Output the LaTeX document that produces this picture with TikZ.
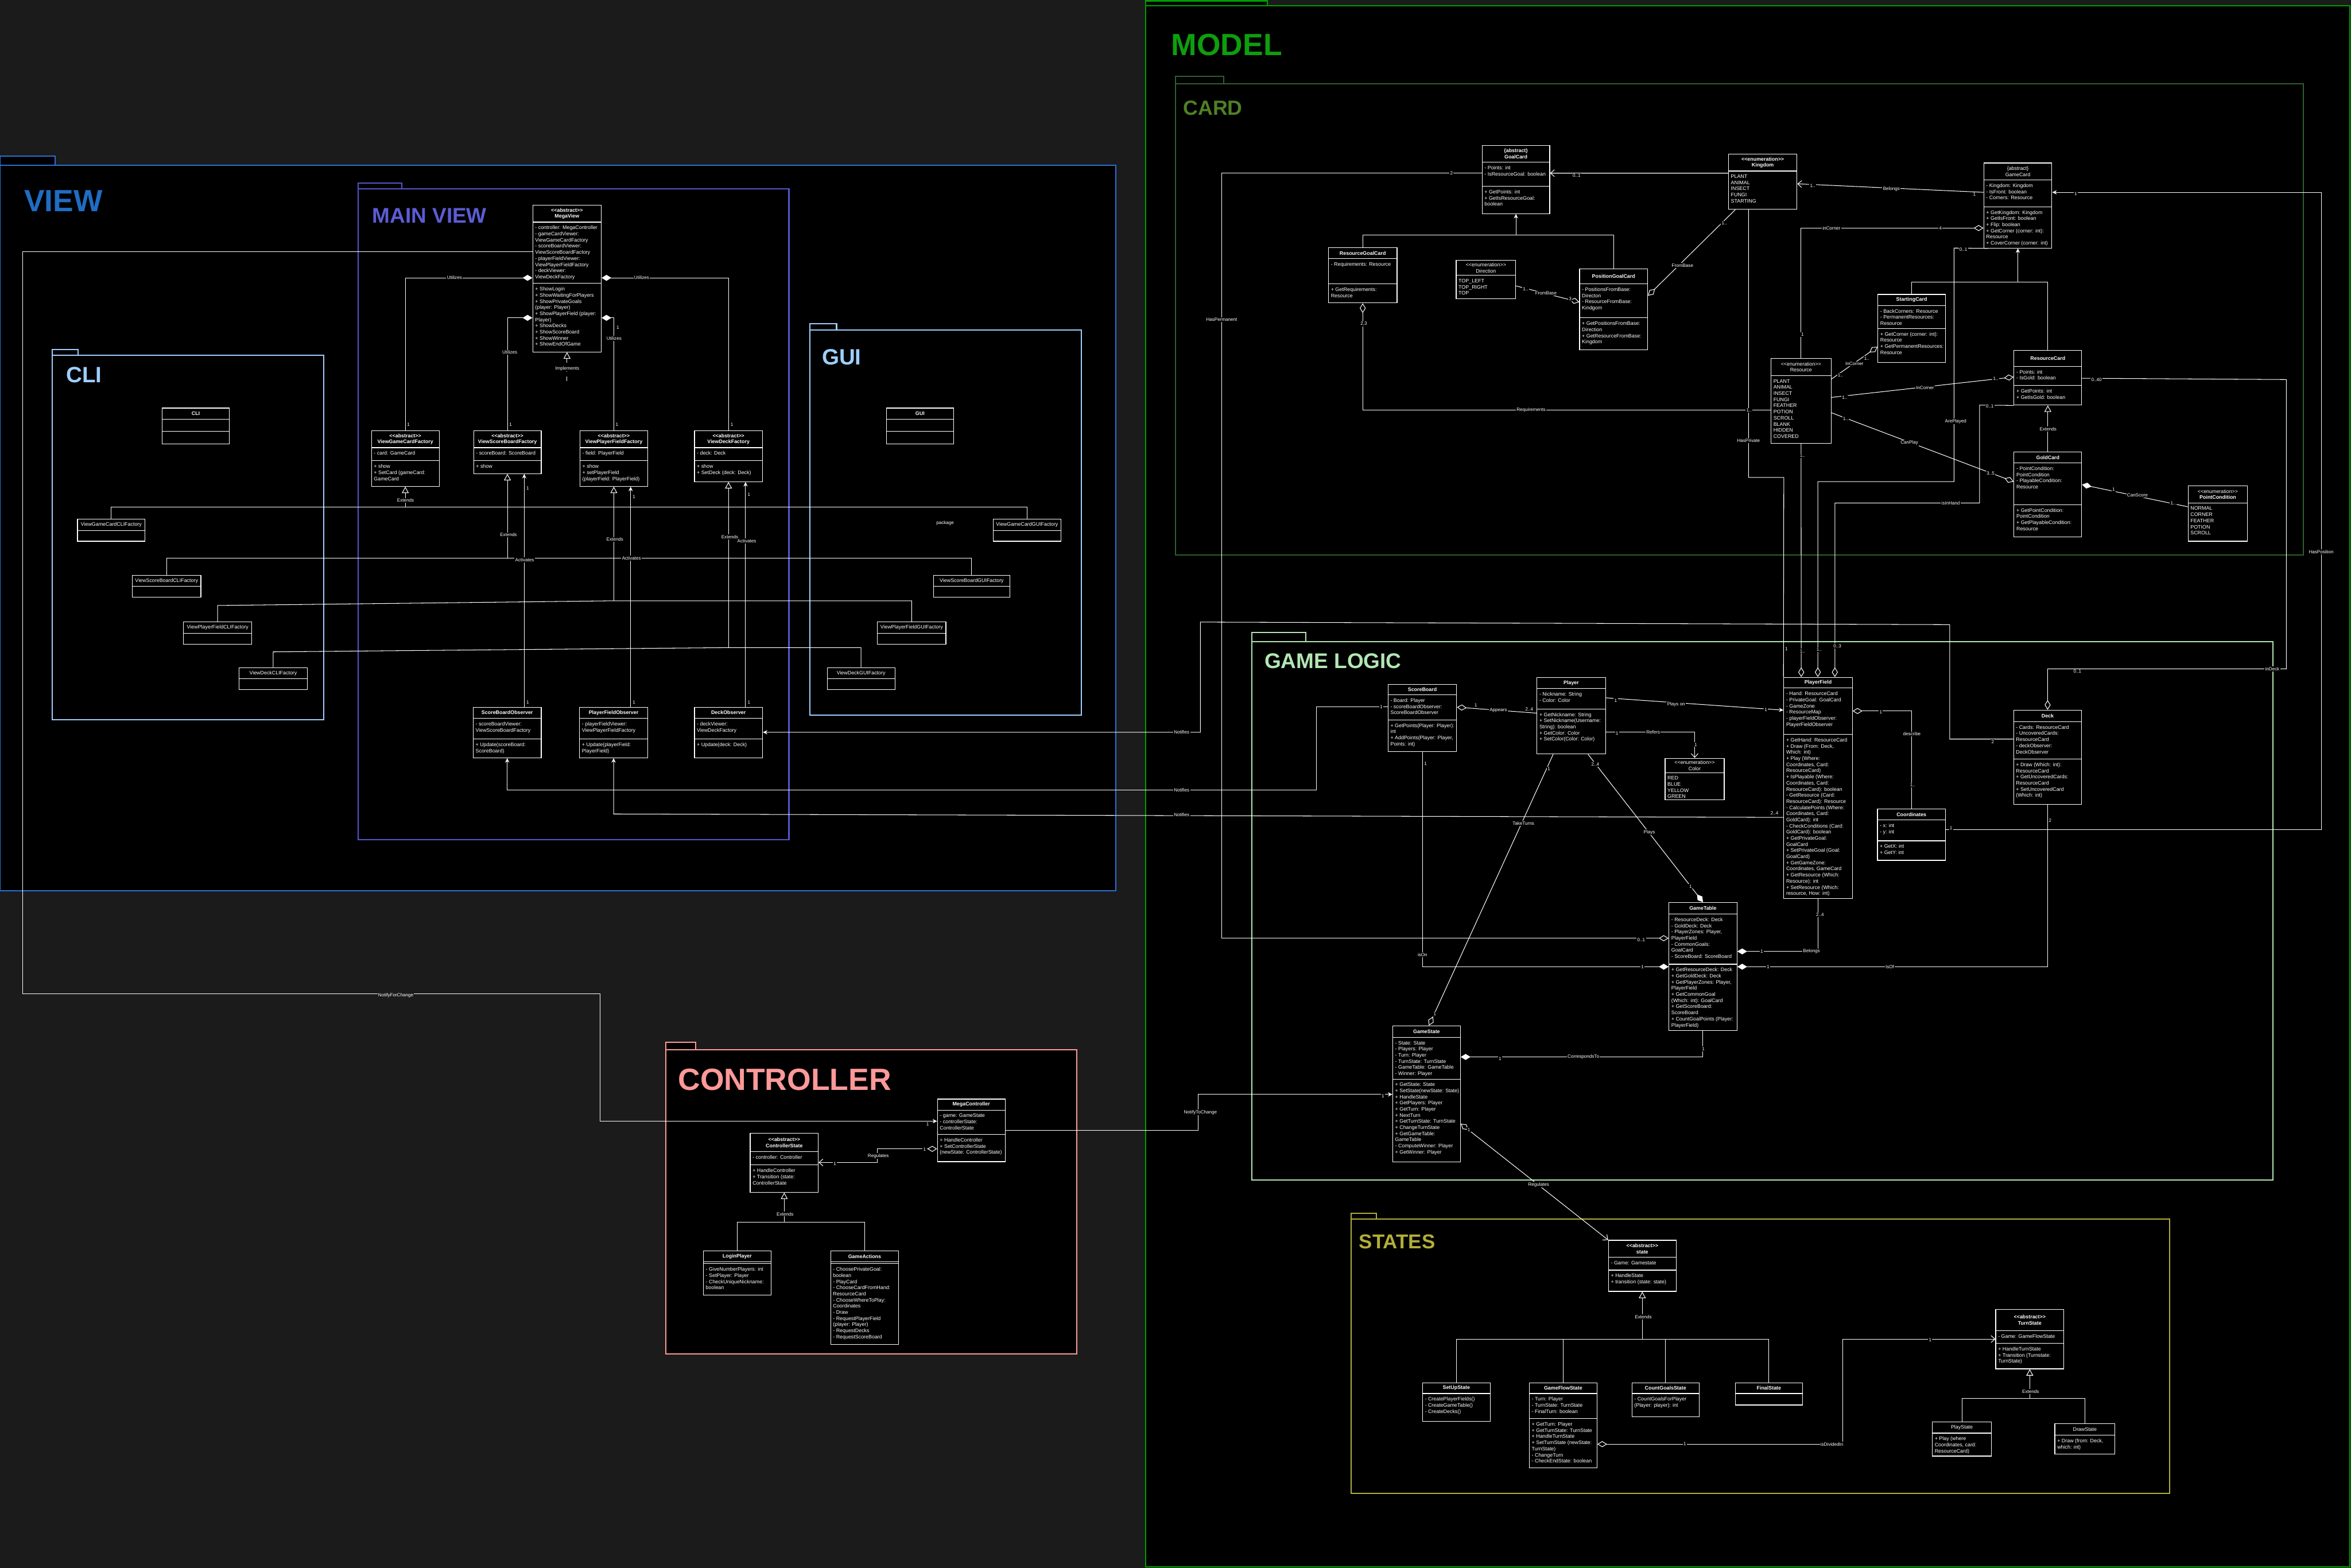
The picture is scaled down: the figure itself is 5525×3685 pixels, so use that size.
\documentclass[tikz,border=0pt]{standalone}
\usepackage{fontspec}
\setmainfont{Liberation Sans}
\usetikzlibrary{arrows.meta,fit}
\pgfdeclarelayer{bgl}
\pgfdeclarelayer{edges}
\pgfsetlayers{bgl,edges,main}
\definecolor{pagebg}{HTML}{1B1B1B}
\definecolor{viewc}{HTML}{2A6FD6}
\definecolor{viewt}{HTML}{1F6DC4}
\definecolor{mainvc}{HTML}{5555CC}
\definecolor{mainvt}{HTML}{5C5CD6}
\definecolor{clic}{HTML}{9ECFFF}
\definecolor{modelc}{HTML}{009F00}
\definecolor{modelt}{HTML}{0E9E0E}
\definecolor{cardc}{HTML}{2F5F2F}
\definecolor{cardt}{HTML}{4F8026}
\definecolor{logicc}{HTML}{B3E6B3}
\definecolor{ctrlc}{HTML}{FF9999}
\definecolor{statesc}{HTML}{B3AE38}
\newcommand\hdf{\fontsize{3.41pt}{4.1pt}\selectfont}
\newcommand\lbf{\fontsize{3.1pt}{3.7pt}\selectfont}
\newcommand\stL{<\kern0pt<}
\newcommand\stR{>\kern0pt>}
\newcommand\ttlfont[1]{\fontsize{#1}{#1}\selectfont\bfseries}
\tikzset{
  clsbox/.style={draw=white,line width=0.45pt,fill=black,inner sep=0pt},
  secl/.style={draw=white,line width=0.45pt},
  hdtxt/.style={font=\hdf,text=white,align=center,inner sep=0pt},
  bdtxt/.style={font=\hdf,text=white,align=left,inner sep=0pt,anchor=north west},
  conn/.style={draw=white,line width=0.4pt},
  lab/.style={font=\lbf,text=white,fill=black,inner sep=0.5pt},
  pkgline/.style={line width=0.8pt,fill=black},
  ptitle/.style={anchor=west,inner sep=0pt},
  HDia/.tip={Diamond[fill=black,length=6.5pt,width=4pt]},
  FDia/.tip={Diamond[length=6.5pt,width=4pt]},
  GTri/.tip={Triangle[fill=black,length=4.3pt,width=4.6pt]},
  OBarb/.tip={Straight Barb[length=2.6pt,width=4.6pt]},
  FArr/.tip={Stealth[length=3pt,width=2.8pt]},
}
% name, x1, y1, x2, y2, header bottom, header text
\newcommand\cls[7]{%
  \coordinate (#1-a) at (#2,#3);\coordinate (#1-b) at (#4,#5);
  \node[clsbox,fit=(#1-a)(#1-b)] (#1) {};
  \draw[secl] (#2,#6) -- (#4,#6);
  \node[hdtxt] at ({(#2+#4)/2},{(#3+#6)/2}) {#7};}
\newcommand\sect[3]{\draw[secl] (#1,#3) -- (#2,#3);}
\newcommand\txt[3]{\node[bdtxt] at ({#1+5},{#2+8}) {#3};}
\newcommand\lb[3]{\node[lab] at (#1,#2) {#3};}
\begin{document}
\begin{tikzpicture}[x=0.01cm,y=-0.01cm]
\useasboundingbox (0,0) rectangle (5525,3685);
\begin{pgfonlayer}{bgl}
\fill[pagebg] (0,0) rectangle (5525,3685);
\draw[viewc,pkgline] (0,367) rectangle (130,388);
\draw[viewc,pkgline] (0,388) rectangle (2622,2093);
\draw[mainvc,pkgline] (842,430) rectangle (944,444);
\draw[mainvc,pkgline] (842,444) rectangle (1854,1973);
\draw[clic,pkgline] (123,821) rectangle (183,835);
\draw[clic,pkgline] (123,835) rectangle (761,1691);
\draw[clic,pkgline] (1903,761) rectangle (1966,775);
\draw[clic,pkgline] (1903,775) rectangle (2541,1681);
\draw[modelc,pkgline] (2692,2) rectangle (2978,14);
\draw[modelc,pkgline] (2692,14) rectangle (5522,3682);
\draw[cardc,pkgline] (2763,180) rectangle (2876,197);
\draw[cardc,pkgline] (2763,197) rectangle (5413,1304);
\draw[logicc,pkgline] (2942,1487) rectangle (3069,1508);
\draw[logicc,pkgline] (2942,1508) rectangle (5342,2773);
\draw[ctrlc,pkgline] (1565,2449) rectangle (1635,2467);
\draw[ctrlc,pkgline] (1565,2467) rectangle (2530,3182);
\draw[statesc,pkgline] (3175,2851) rectangle (3235,2865);
\draw[statesc,pkgline] (3175,2865) rectangle (5099,3510);
\end{pgfonlayer}
% package titles
\node[ptitle,text=viewt,font=\ttlfont{20.5pt}] (tview) at (56,472) {VIEW};
\node[ptitle,text=mainvt,font=\ttlfont{14.2pt}] (tmain) at (874,507) {MAIN VIEW};
\node[ptitle,text=clic,font=\ttlfont{14.8pt}] (tcli) at (155,881) {CLI};
\node[ptitle,text=clic,font=\ttlfont{14.8pt}] (tgui) at (1931,839) {GUI};
\node[ptitle,text=modelt,font=\ttlfont{20.5pt}] (tmodel) at (2752,106) {MODEL};
\node[ptitle,text=cardt,font=\ttlfont{13.7pt}] (tcard) at (2780,254) {CARD};
\node[ptitle,text=logicc,font=\ttlfont{14.2pt}] (tlogic) at (2971,1554) {GAME LOGIC};
\node[ptitle,text=ctrlc,font=\ttlfont{20.5pt}] (tctrl) at (1593,2537) {CONTROLLER};
\node[ptitle,text=statesc,font=\ttlfont{13.4pt}] (tstates) at (3193,2918) {STATES};

% ================= MAIN VIEW
\cls{megaview}{1252}{482}{1413}{827}{522}{\textbf{\stL abstract\stR}\\\textbf{MegaView}}
\sect{1252}{1413}{666}
\txt{1252}{522}{- controller: MegaController\\- gameCardViewer:\\ViewGameCardFactory\\- scoreBoardViewer:\\ViewScoreBoardFactory\\- playerFieldViewer:\\ViewPlayerFieldFactory\\- deckViewer:\\ViewDeckFactory}
\txt{1252}{666}{+ ShowLogin\\+ ShowWaitingForPlayers\\+ ShowPrivateGoals\\(player: Player)\\+ ShowPlayerField (player:\\Player)\\+ ShowDecks\\+ ShowScoreBoard\\+ ShowWinner\\+ ShowEndOfGame}
\cls{vgcf}{873}{1012}{1032}{1143}{1052}{\textbf{\stL abstract\stR}\\\textbf{ViewGameCardFactory}}
\sect{873}{1032}{1083}
\txt{873}{1052}{- card: GameCard}
\txt{873}{1083}{+ show\\+ SetCard (gameCard:\\GameCard}
\cls{vsbf}{1113}{1012}{1272}{1113}{1052}{\textbf{\stL abstract\stR}\\\textbf{ViewScoreBoardFactory}}
\sect{1113}{1272}{1083}
\txt{1113}{1052}{- scoreBoard: ScoreBoard}
\txt{1113}{1083}{+ show}
\cls{vpff}{1363}{1012}{1522}{1143}{1052}{\textbf{\stL abstract\stR}\\\textbf{ViewPlayerFieldFactory}}
\sect{1363}{1522}{1083}
\txt{1363}{1052}{- field: PlayerField}
\txt{1363}{1083}{+ show\\+ setPlayerField\\(playerField: PlayerField)}
\cls{vdf}{1632}{1012}{1792}{1132}{1052}{\textbf{\stL abstract\stR}\\\textbf{ViewDeckFactory}}
\sect{1632}{1792}{1083}
\txt{1632}{1052}{- deck: Deck}
\txt{1632}{1083}{+ show\\+ SetDeck (deck: Deck)}
\cls{sbo}{1112}{1662}{1272}{1781}{1688}{\textbf{ScoreBoardObserver}}
\sect{1112}{1272}{1737}
\txt{1112}{1688}{- scoreBoardViewer:\\ViewScoreBoardFactory}
\txt{1112}{1737}{+ Update(scoreBoard:\\ScoreBoard)}
\cls{pfo}{1362}{1662}{1522}{1781}{1688}{\textbf{PlayerFieldObserver}}
\sect{1362}{1522}{1737}
\txt{1362}{1688}{- playerFieldViewer:\\ViewPlayerFieldFactory}
\txt{1362}{1737}{+ Update(playerField:\\PlayerField)}
\cls{dko}{1632}{1662}{1792}{1781}{1688}{\textbf{DeckObserver}}
\sect{1632}{1792}{1737}
\txt{1632}{1688}{- deckViewer:\\ViewDeckFactory}
\txt{1632}{1737}{+ Update(deck: Deck)}

% ================= CLI / GUI
\cls{cli}{381}{959}{539}{1043}{985}{\textbf{CLI}}
\sect{381}{539}{1014}
\cls{gui}{2083}{959}{2241}{1043}{985}{\textbf{GUI}}
\sect{2083}{2241}{1014}
\cls{vgccli}{182}{1220}{341}{1272}{1247}{ViewGameCardCLIFactory}
\cls{vsbcli}{311}{1352}{472}{1404}{1378}{ViewScoreBoardCLIFactory}
\cls{vpfcli}{431}{1462}{592}{1514}{1488}{ViewPlayerFieldCLIFactory}
\cls{vdcli}{562}{1569}{722}{1621}{1595}{ViewDeckCLIFactory}
\cls{vgcgui}{2334}{1220}{2493}{1272}{1247}{ViewGameCardGUIFactory}
\cls{vsbgui}{2194}{1352}{2373}{1404}{1378}{ViewScoreBoardGUIFactory}
\cls{vpfgui}{2062}{1462}{2223}{1514}{1488}{ViewPlayerFieldGUIFactory}
\cls{vdgui}{1944}{1569}{2103}{1621}{1595}{ViewDeckGUIFactory}

% ================= CONTROLLER
\cls{mc}{2203}{2583}{2362}{2730}{2609}{\textbf{MegaController}}
\sect{2203}{2362}{2666}
\txt{2203}{2609}{- game: GameState\\- controllerState:\\ControllerState}
\txt{2203}{2666}{+ HandleController\\+ SetControllerState\\(newState: ControllerState)}
\cls{cs}{1763}{2663}{1923}{2802}{2707}{\textbf{\stL abstract\stR}\\\textbf{ControllerState}}
\sect{1763}{1923}{2738}
\txt{1763}{2707}{- controller: Controller}
\txt{1763}{2738}{+ HandleController\\+ Transition (state:\\ControllerState}
\cls{lp}{1653}{2940}{1812}{3044}{2966}{\textbf{LoginPlayer}}
\sect{1653}{1812}{2970}
\txt{1653}{2970}{- GiveNumberPlayers: int\\- SetPlayer: Player\\- CheckUniqueNickname:\\boolean}
\cls{ga}{1952}{2940}{2112}{3160}{2966}{\textbf{GameActions}}
\sect{1952}{2112}{2970}
\txt{1952}{2970}{- ChoosePrivateGoal:\\boolean\\- PlayCard\\- ChooseCardFromHand:\\ResourceCard\\- ChooseWhereToPlay:\\Coordinates\\- Draw\\- RequestPlayerField\\(player: Player)\\- RequestDecks\\- RequestScoreBoard}

% ================= CARD
\cls{goalcard}{3483}{342}{3642}{502}{381}{\textbf{\{abstract\}}\\\textbf{GoalCard}}
\sect{3483}{3642}{438}
\txt{3483}{381}{- Points: int\\- IsResourceGoal: boolean}
\txt{3483}{438}{+ GetPoints: int\\+ GetIsResourceGoal:\\boolean}
\cls{rgc}{3122}{582}{3283}{712}{608}{\textbf{ResourceGoalCard}}
\sect{3122}{3283}{667}
\txt{3122}{608}{- Requirements: Resource}
\txt{3122}{667}{+ GetRequirements:\\Resource}
\cls{dir}{3422}{612}{3562}{702}{647}{\stL enumeration\stR\\Direction}
\txt{3422}{647}{TOP\_LEFT\\TOP\_RIGHT\\TOP}
\cls{pgc}{3712}{632}{3872}{822}{667}{\textbf{PositionGoalCard}}
\sect{3712}{3872}{747}
\txt{3712}{667}{- PositionsFromBase:\\Directon\\- ResourceFromBase:\\Kindgom}
\txt{3712}{747}{+ GetPositionsFromBase:\\Direction\\+ GetResourceFromBase:\\Kingdom}
\cls{kingdom}{4062}{362}{4223}{492}{402}{\textbf{\stL enumeration\stR}\\\textbf{Kingdom}}
\txt{4062}{402}{PLANT\\ANIMAL\\INSECT\\FUNGI\\STARTING}
\cls{gamecard}{4662}{383}{4822}{583}{423}{\{abstract\}\\GameCard}
\sect{4662}{4822}{486}
\txt{4662}{423}{- Kingdom: Kingdom\\- IsFront: boolean\\- Corners: Resource}
\txt{4662}{486}{+ GetKingdom: Kingdom\\+ GetIsFront: boolean\\+ Flip: boolean\\+ GetCorner (corner: int):\\Resource\\+ CoverCorner (corner: int)}
\cls{startcard}{4413}{692}{4572}{852}{718}{\textbf{StartingCard}}
\sect{4413}{4572}{772}
\txt{4413}{718}{- BackCorners: Resource\\- PermanentResources:\\Resource}
\txt{4413}{772}{+ GetCorner (corner: int):\\Resource\\+ GetPermanentResources:\\Resource}
\cls{resource}{4162}{842}{4303}{1042}{883}{\stL enumeration\stR\\Resource}
\txt{4162}{883}{PLANT\\ANIMAL\\INSECT\\FUNGI\\FEATHER\\POTION\\SCROLL\\BLANK\\HIDDEN\\COVERED}
\cls{rescard}{4733}{823}{4892}{952}{861}{\textbf{ResourceCard}}
\sect{4733}{4892}{906}
\txt{4733}{861}{- Points: int\\- IsGold: boolean}
\txt{4733}{906}{+ GetPoints: int\\+ GetIsGold: boolean}
\cls{goldcard}{4733}{1062}{4892}{1262}{1088}{\textbf{GoldCard}}
\sect{4733}{4892}{1186}
\txt{4733}{1088}{- PointCondition:\\PointCondition\\- PlayableCondition:\\Resource}
\txt{4733}{1186}{+ GetPointCondition:\\PointCondition\\+ GetPlayableCondition:\\Resource}
\cls{pointcond}{5142}{1142}{5282}{1272}{1182}{\stL enumeration\stR\\\textbf{PointCondition}}
\txt{5142}{1182}{NORMAL\\CORNER\\FEATHER\\POTION\\SCROLL}

% ================= GAME LOGIC
\cls{scoreboard}{3262}{1608}{3423}{1766}{1633}{\textbf{ScoreBoard}}
\sect{3262}{3423}{1692}
\txt{3262}{1633}{- Board: Player\\- scoreBoardObserver:\\ScoreBoardObserver}
\txt{3262}{1692}{+ GetPoints(Player: Player):\\int\\+ AddPoints(Player: Player,\\Points: int)}
\cls{player}{3612}{1592}{3773}{1772}{1618}{\textbf{Player}}
\sect{3612}{3773}{1666}
\txt{3612}{1618}{- Nickname: String\\- Color: Color}
\txt{3612}{1666}{+ GetNickname: String\\+ SetNickname(Username:\\String): boolean\\+ GetColor: Color\\+ SetColor(Color: Color)}
\cls{colorenum}{3913}{1782}{4052}{1880}{1816}{\stL enumeration\stR\\Color}
\txt{3913}{1816}{RED\\BLUE\\YELLOW\\GREEN}
\cls{playerfield}{4192}{1592}{4353}{2112}{1617}{\textbf{PlayerField}}
\sect{4192}{4353}{1726}
\txt{4192}{1617}{- Hand: ResourceCard\\- PrivateGoal: GoalCard\\- GameZone\\- ResourceMap\\- playerFieldObserver:\\PlayerFieldObserver}
\txt{4192}{1726}{+ GetHand: ResourceCard\\+ Draw (From: Deck,\\Which: int)\\+ Play (Where:\\Coordinates, Card:\\ResourceCard)\\+ IsPlayable (Where:\\Coordinates, Card:\\ResourceCard): boolean\\- GetResource (Card:\\ResourceCard): Resource\\- CalculatePoints (Where:\\Coordinates, Card:\\GoldCard): int\\- CheckConditions (Card:\\GoldCard): boolean\\+ GetPrivateGoal:\\GoalCard\\+ SetPrivateGoal (Goal:\\GoalCard)\\+ GetGameZone:\\Coordinates, GameCard\\+ GetResource (Which:\\Resource): int\\+ SetResource (Which:\\resource, How: int)}
\cls{deck}{4732}{1669}{4892}{1890}{1696}{\textbf{Deck}}
\sect{4732}{4892}{1784}
\txt{4732}{1696}{- Cards: ResourceCard\\- UncoveredCards:\\ResourceCard\\- deckObserver:\\DeckObserver}
\txt{4732}{1784}{+ Draw (Which: int):\\ResourceCard\\+ GetUncoveredCards:\\ResourceCard\\+ SetUncoveredCard\\(Which: int)}
\cls{coords}{4412}{1901}{4572}{2022}{1927}{\textbf{Coordinates}}
\sect{4412}{4572}{1976}
\txt{4412}{1927}{- x: int\\- y: int}
\txt{4412}{1976}{+ GetX: int\\+ GetY: int}
\cls{gametable}{3922}{2121}{4082}{2422}{2148}{\textbf{GameTable}}
\sect{3922}{4082}{2266}
\txt{3922}{2148}{- ResourceDeck: Deck\\- GoldDeck: Deck\\- PlayerZones: Player,\\PlayerField\\- CommonGoals:\\GoalCard\\- ScoreBoard: ScoreBoard}
\txt{3922}{2266}{+ GetResourceDeck: Deck\\+ GetGoldDeck: Deck\\+ GetPlayerZones: Player,\\PlayerField\\+ GetCommonGoal\\(Which: int): GoalCard\\+ GetScoreBoard:\\ScoreBoard\\+ CountGoalPoints (Player:\\PlayerField)}
\cls{gamestate}{3273}{2411}{3432}{2731}{2438}{\textbf{GameState}}
\sect{3273}{3432}{2536}
\txt{3273}{2438}{- State: State\\- Players: Player\\- Turn: Player\\- TurnState: TurnState\\- GameTable: GameTable\\- Winner: Player}
\txt{3273}{2536}{+ GetState: State\\+ SetState(newState: State)\\+ HandleState\\+ GetPlayers: Player\\+ GetTurn: Player\\+ NextTurn\\+ GetTurnState: TurnState\\+ ChangeTurnState\\+ GetGameTable:\\GameTable\\- ComputeWinner: Player\\+ GetWinner: Player}

% ================= STATES
\cls{stateabs}{3780}{2915}{3939}{3035}{2955}{\textbf{\stL abstract\stR}\\\textbf{state}}
\sect{3780}{3939}{2985}
\txt{3780}{2955}{- Game: Gamestate}
\txt{3780}{2985}{+ HandleState\\+ transition (state: state)}
\cls{setup}{3343}{3250}{3502}{3340}{3275}{\textbf{SetUpState}}
\txt{3343}{3275}{- CreatePlayerFields()\\- CreateGameTable()\\- CreateDecks()}
\cls{gameflow}{3594}{3250}{3753}{3450}{3275}{\textbf{GameFlowState}}
\sect{3594}{3753}{3334}
\txt{3594}{3275}{- Turn: Player\\- TurnState: TurnState\\- FinalTurn: boolean}
\txt{3594}{3334}{+ GetTurn: Player\\+ GetTurnState: TurnState\\+ HandleTurnState\\+ SetTurnState (newState:\\TurnState)\\- ChangeTurn\\- CheckEndState: boolean}
\cls{countgoals}{3835}{3250}{3993}{3330}{3275}{\textbf{CountGoalsState}}
\txt{3835}{3275}{- CountGoalsForPlayer\\(Player: player): int}
\cls{finalst}{4078}{3250}{4236}{3302}{3275}{\textbf{FinalState}}
\cls{turnstate}{4690}{3077}{4850}{3217}{3127}{\textbf{\stL abstract\stR}\\\textbf{TurnState}}
\sect{4690}{4850}{3157}
\txt{4690}{3127}{- Game: GameFlowState}
\txt{4690}{3157}{+ HandleTurnState\\+ Transition (Turnstate:\\TurnState)}
\cls{playstate}{4541}{3342}{4680}{3422}{3368}{PlayState}
\txt{4541}{3368}{+ Play (where\\Coordinates, card:\\ResourceCard)}
\cls{drawstate}{4829}{3346}{4970}{3417}{3373}{DrawState}
\txt{4829}{3373}{+ Draw (from: Deck,\\which: int)}

% ================= CONNECTORS
\begin{pgfonlayer}{edges}
% main view
\draw[conn,FDia-] (megaview.west |- 0,653) -| (vgcf.north);
\draw[conn,FDia-] (megaview.west |- 0,747) -| (vsbf.north);
\draw[conn,FDia-] (megaview.east |- 0,653) -| (vdf.north);
\draw[conn,FDia-] (megaview.east |- 0,747) -| (vpff.north);
\draw[conn,dashed,-GTri] (megaview.south |- 0,895) -- (megaview.south);
\draw[conn,-GTri] (vgcf.south |- 0,1192) -- (vgcf.south);
\draw[conn] (vgccli.north) |- (vgcf.south |- 0,1192) -| (vgcgui.north);
\draw[conn,-GTri] (vsbf.south |- 0,1312) -- (vsbf.south);
\draw[conn] (vsbcli.north) |- (vsbf.south |- 0,1312) -| (vsbgui.north);
\draw[conn,-GTri] (vpff.south |- 0,1412) -- (vpff.south);
\draw[conn] (vpfcli.north) -- (vpfcli.north |- 0,1423) -- (vpff.south |- 0,1412) -| (vpfgui.north);
\draw[conn,-GTri] (vdf.south |- 0,1522) -- (vdf.south);
\draw[conn] (vdcli.north) -- (vdcli.north |- 0,1532) -- (vdf.south |- 0,1522) -| (vdgui.north);
\draw[conn,-FArr] (sbo.north -| 1232,0) -- (vsbf.south -| 1232,0);
\draw[conn,-FArr] (pfo.north -| 1482,0) -- (vpff.south -| 1482,0);
\draw[conn,-FArr] (dko.north -| 1752,0) -- (vdf.south -| 1752,0);
% notifies
\draw[conn,-FArr] (scoreboard.west |- 0,1661) -- (3093,1661) |- (1192,1857) -- (sbo.south -| 1192,0);
\draw[conn,-FArr] (playerfield.west |- 0,1921) -- (1442,1913) -- (pfo.south -| 1442,0);
\draw[conn,-FArr] (deck.west |- 0,1737) -| (4582,1468) -- (2821,1462) -- (2821,1721) -- (dko.east |- 0,1721);
% controller
\draw[conn,-FArr] (megaview.west |- 0,592) -- (53,592) -- (53,2336) -- (1410,2336) -- (1410,2635) -- (mc.west |- 0,2635);
\draw[conn,-FArr] (mc.east |- 0,2656) -- (2816,2656) -- (2816,2572) -- (gamestate.west |- 0,2572);
\draw[conn,HDia-OBarb] (mc.west |- 0,2700) -- (2062,2700) -- (2062,2732) -- (cs.east |- 0,2732);
\draw[conn,-GTri] (cs.south |- 0,2872) -- (cs.south);
\draw[conn] (lp.north) |- (cs.south |- 0,2872) -| (ga.north);
% card
\draw[conn,-OBarb] (gamecard.west |- 0,452) -- (kingdom.east |- 0,432);
\draw[conn,-HDia] (kingdom.south -| 4078,0) -- (pgc.east |- 0,695);
\draw[conn,-HDia] (dir.east |- 0,672) -- (pgc.west |- 0,710);
\draw[conn,-FArr] (goalcard.south |- 0,552) -- (goalcard.south);
\draw[conn] (rgc.north) |- (goalcard.south |- 0,552) -| (pgc.north);
\draw[conn,HDia-] (rgc.south) |- (resource.west |- 0,964);
\draw[conn,-FArr] (gamecard.south |- 0,663) -- (gamecard.south);
\draw[conn] (startcard.north) |- (gamecard.south |- 0,663) -| (rescard.north);
\draw[conn,HDia-] (gamecard.west |- 0,536) -| (resource.north);
\draw[conn,-HDia] (resource.east |- 0,891) -- (startcard.west |- 0,815);
\draw[conn,-HDia] (resource.east |- 0,934) -- (rescard.west |- 0,886);
\draw[conn,-HDia] (resource.east |- 0,970) -- (goldcard.west |- 0,1132);
\draw[conn,-GTri] (goldcard.north) -- (rescard.south);
\draw[conn,FDia-] (goldcard.east |- 0,1139) -- (pointcond.west |- 0,1191);
\draw[conn,-HDia] (rescard.east |- 0,889) -- (5373,892) -- (5373,1572) -| (deck.north);
\draw[conn,-FArr] (coords.east |- 0,1950) -- (5455,1950) -- (5455,452) -- (gamecard.east |- 0,452);
\draw[conn,HDia-] (gametable.west |- 0,2205) -- (2871,2205) -- (2871,407) -- (goalcard.west |- 0,407);
\draw[conn,-OBarb] (playerfield.north west) -- (4192,1122) -- (4109,1122) -- (4109,407) -- (goalcard.east |- 0,407);
\draw[conn,HDia-] (playerfield.north -| 4272,0) -- (4272,1132) -- (4592,1132) -- (4592,583) -- (gamecard.south -| 4672,0);
\draw[conn,HDia-] (playerfield.north -| 4312,0) -- (4312,1182) -- (4652,1182) -- (4652,952) -- (rescard.south west);
\draw[conn,HDia-] (playerfield.north -| 4233,0) -- (resource.south);
% game logic
\draw[conn,HDia-] (scoreboard.east |- 0,1662) -- (player.west |- 0,1676);
\draw[conn,-FArr] (player.east |- 0,1640) -- (playerfield.west |- 0,1669);
\draw[conn,-OBarb] (player.east |- 0,1721) -| (colorenum.north);
\draw[conn,-HDia] (player.south -| 3650,0) -- (gamestate.north -| 3358,0);
\draw[conn,-FDia] (player.south -| 3732,0) -- (gametable.north);
\draw[conn,-FDia] (scoreboard.south) |- (gametable.west |- 0,2272);
\draw[conn,-FDia] (gametable.south) |- (gamestate.east |- 0,2484);
\draw[conn,-FDia] (playerfield.south) |- (gametable.east |- 0,2236);
\draw[conn,-FDia] (deck.south) |- (gametable.east |- 0,2272);
\draw[conn,HDia-] (playerfield.east |- 0,1671) -| (coords.north);
% states
\draw[conn,HDia-OBarb] (gamestate.east |- 0,2641) -- (stateabs.north west);
\draw[conn,-GTri] (stateabs.south |- 0,3147) -- (stateabs.south);
\draw[conn] (setup.north) |- (finalst.north |- 0,3147) -- (finalst.north);
\draw[conn] (gameflow.north) -- (gameflow.north |- 0,3147);
\draw[conn] (countgoals.north) -- (countgoals.north |- 0,3147);
\draw[conn,HDia-OBarb] (gameflow.east |- 0,3394) -- (4330,3394) -- (4330,3147) -- (turnstate.west |- 0,3147);
\draw[conn,-GTri] (turnstate.south |- 0,3286) -- (turnstate.south);
\draw[conn] (playstate.north) |- (turnstate.south |- 0,3286) -| (drawstate.north);
\end{pgfonlayer}

% ================= LABELS
\lb{1068}{653}{Utilizes}\lb{1198}{828}{Utilizes}\lb{1508}{653}{Utilizes}\lb{1443}{795}{Utilizes}
\lb{1333}{866}{Implements}
\lb{953}{1176}{Extends}\lb{1195}{1257}{Extends}\lb{1445}{1268}{Extends}\lb{1715}{1262}{Extends}
\lb{1233}{1316}{Activates}\lb{1484}{1312}{Activates}\lb{1755}{1271}{Activates}
\lb{2221}{1229}{package}
\node[lab,fill=pagebg] at (930,2340) {NotifyForChange};
\lb{2777}{1721}{Notifies}\lb{2777}{1857}{Notifies}\lb{2777}{1915}{Notifies}
\lb{2821}{2614}{NotifyToChange}
\lb{2064}{2717}{Regulates}\lb{1845}{2853}{Extends}
\lb{4445}{445}{Belongs}\lb{3954}{624}{FromBase}\lb{3633}{689}{FromBase}\lb{3598}{964}{Requirements}
\lb{4304}{536}{inCorner}\lb{4358}{855}{InCorner}\lb{4524}{912}{InCorner}\lb{4487}{1041}{CanPlay}
\lb{4813}{1008}{Extends}\lb{5023}{1164}{CanScore}\lb{4596}{990}{ArePlayed}\lb{4584}{1182}{isInHand}
\lb{4109}{1036}{HasPrivate}\lb{2871}{751}{HasPermanent}\lb{5340}{1572}{inDeck}\lb{5455}{1297}{HasPosition}
\lb{3521}{1669}{Appears}\lb{3939}{1656}{Plays on}\lb{3885}{1721}{Refers}\lb{3580}{1935}{TakeTurns}
\lb{3876}{1956}{Plays}\lb{3343}{2244}{isOn}\lb{3721}{2484}{CorrespondsTo}\lb{4257}{2236}{Belongs}
\lb{4441}{2272}{IsOf}\lb{4493}{1725}{describe}
\lb{3616}{2784}{Regulates}\lb{3862}{3095}{Extends}\lb{4305}{3394}{isDividedIn}\lb{4772}{3270}{Extends}
% multiplicities
\lb{960}{998}{1}\lb{1200}{998}{1}\lb{1450}{998}{1}\lb{1720}{998}{1}\lb{1452}{770}{1}
\lb{1240}{1148}{1}\lb{1490}{1168}{1}\lb{1760}{1162}{1}
\lb{1240}{1650}{1}\lb{1490}{1650}{1}\lb{1760}{1650}{1}
\lb{3246}{1661}{1}\lb{4170}{1911}{2..4}\lb{4683}{1743}{2}
\lb{2180}{2642}{1}\lb{3250}{2576}{1}
\lb{2173}{2702}{1}\lb{1962}{2735}{1}
\lb{3411}{407}{2}\lb{3705}{413}{0..1}\lb{4260}{437}{1..}\lb{4640}{457}{1}\lb{4052}{525}{1..}
\lb{3585}{680}{1..}\lb{3690}{703}{3}\lb{3205}{761}{2,3}\lb{4110}{964}{1..}\lb{4560}{537}{4}
\lb{4236}{786}{1}\lb{4614}{587}{0..1}\lb{4387}{842}{1..}\lb{4325}{882}{1..}\lb{4335}{935}{1..}
\lb{4690}{890}{1..}\lb{4337}{984}{1..}\lb{4678}{1113}{3..5}\lb{4927}{892}{0..40}\lb{4676}{955}{0..1}
\lb{4967}{1150}{1}\lb{5107}{1183}{1..}\lb{4878}{455}{1}\lb{4585}{1946}{1}\lb{4236}{1071}{1..}
\lb{4882}{1578}{0..1}\lb{4198}{1525}{1}\lb{4236}{1530}{1..}\lb{4275}{1527}{1..}\lb{4318}{1518}{0..3}
\lb{3857}{2209}{0..1}
\lb{3468}{1658}{1}\lb{3594}{1667}{2..4}\lb{3797}{1646}{1}\lb{4150}{1668}{1}\lb{3800}{1724}{1}
\lb{3985}{1750}{1}\lb{3640}{1807}{1}\lb{3372}{2383}{1}\lb{3749}{1796}{2..4}\lb{3973}{2083}{1}
\lb{3350}{1795}{1}\lb{3860}{2273}{1}\lb{4003}{2465}{1}\lb{3525}{2488}{1}\lb{4277}{2150}{2..4}
\lb{4140}{2236}{1}\lb{4818}{1928}{2}\lb{4155}{2272}{1}\lb{4420}{1674}{1}\lb{4495}{1845}{1..}
\lb{3452}{2655}{1}\lb{3959}{3393}{1}\lb{4536}{3149}{1}
\end{tikzpicture}
\end{document}
